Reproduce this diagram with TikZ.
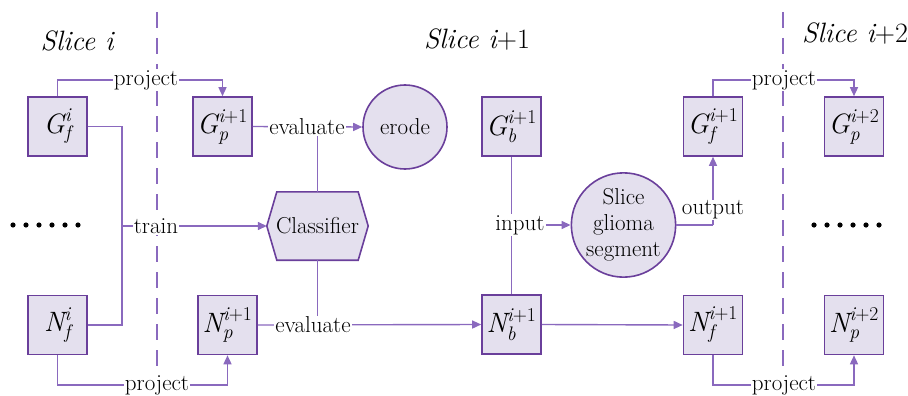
\documentclass[tikz,border=0pt]{standalone}
\usepackage{amsmath}
\usetikzlibrary{arrows.meta}

\definecolor{boxfill}{HTML}{E4E0EE}
\definecolor{boxline}{HTML}{6A3F9B}
\definecolor{wire}{HTML}{8A69BE}

% italic symbol with italic/upright super- and subscripts
\newcommand{\sym}[3]{$\text{\itshape #1}^{#2}_{\text{\itshape #3}}$}
\newcommand{\ii}{\text{\itshape i}}
\newcommand{\ip}[1]{\text{\itshape i}\text{+#1}}

\tikzset{
  setbox/.style={draw=boxline, line width=1.6pt, fill=boxfill,
    minimum size=59pt, inner sep=0pt,
    font=\fontsize{28}{30}\selectfont},
  opnode/.style={circle, draw=boxline, line width=1.6pt, fill=boxfill,
    inner sep=0pt, font=\fontsize{23}{26}\selectfont, align=center},
  lbl/.style={fill=white, inner sep=1pt, font=\fontsize{23}{24}\selectfont},
  title/.style={font=\fontsize{28}{32}\selectfont\itshape},
  wireline/.style={draw=wire, line width=1.4pt},
  arrowline/.style={wireline, -{Triangle[length=9pt,width=8pt]}},
  sep/.style={draw=wire, line width=2pt, dash pattern=on 16pt off 10pt}
}

\begin{document}
\begin{tikzpicture}[x=1pt, y=-1pt]
\useasboundingbox (0,0) rectangle (908,396);

% slice separators
\draw[sep] (157,12) -- (157,380);
\draw[sep] (783,12) -- (783,380);

% titles
\node[title] (ti0) at (77,41) {Slice i};
\node[title] (ti1) at (477,40) {Slice i\upshape+1};
\node[title] (ti2) at (855,34) {Slice i\upshape+2};

% sets
\node[setbox] (Gfi)  at (57.5,126.5) {\sym{G}{\ii}{f}};
\node[setbox] (Nfi)  at (57.5,325)   {\sym{N}{\ii}{f}};
\node[setbox] (Gp1)  at (222.5,126.5) {\sym{G}{\ip1}{p}};
\node[setbox] (Np1)  at (227.5,325)  {\sym{N}{\ip1}{p}};
\node[setbox] (Gb1)  at (511.5,126.5) {\sym{G}{\ip1}{b}};
\node[setbox] (Nb1)  at (511.5,324.5) {\sym{N}{\ip1}{b}};
\node[setbox] (Gf1)  at (713,126.5)  {\sym{G}{\ip1}{f}};
\node[setbox] (Nf1)  at (713,325)    {\sym{N}{\ip1}{f}};
\node[setbox] (Gp2)  at (854,126.5)  {\sym{G}{\ip2}{p}};
\node[setbox] (Np2)  at (854,325)    {\sym{N}{\ip2}{p}};

% operations
\node[opnode, minimum size=84pt] (erode) at (405,127) {erode};
\node[opnode, minimum size=104pt] (seg) at (623.5,225) {Slice\\glioma\\segment};

% classifier (hexagon drawn around a plain node)
\node[minimum width=101pt, minimum height=68pt, inner sep=0pt] (cls) at (317.5,226) {};
\filldraw[draw=boxline, fill=boxfill, line width=1.6pt, line join=miter]
  (cls.west) -- ([xshift=10pt]cls.north west) -- ([xshift=-10pt]cls.north east)
  -- (cls.east) -- ([xshift=-10pt]cls.south east) -- ([xshift=10pt]cls.south west) -- cycle;
\node[font=\fontsize{23}{26}\selectfont] (clsT) at (cls.center) {Classifier};

% ellipses
\foreach \x in {13,26,39,52,65,78} \fill (\x,225) circle (2.6pt);
\foreach \x in {814,827,840,853,866,879} \fill (\x,225) circle (2.6pt);

% training branch
\coordinate (tr0) at (122,126.5);
\coordinate (tr1) at (122,325);
\coordinate (tr2) at (122,226);
\draw[wireline] (Gfi.east) -- (tr0) -- (tr1) -- (Nfi.east);
\draw[arrowline] (tr2) -- (cls.west);
\node[lbl] (trL) at (156,226) {train};

% projections slice i -> i+1
\draw[arrowline] (Gfi.north) -- (57.5,80) -- (222.5,80) -- (Gp1.north);
\node[lbl] (pj1) at (146,80) {project};
\draw[arrowline] (Nfi.south) -- (57.5,385) -- (227.5,385) -- (Np1.south);
\node[lbl] (pj2) at (157,385) {project};

% evaluation
\draw[arrowline] (Gp1.east) -- (erode.west);
\node[lbl] (ev1) at (307,126.5) {evaluate};
\draw[wireline] (cls.north) -- (cls.north |- ev1.south);
\draw[arrowline] (Np1.east) -- (Nb1.west);
\node[lbl] (ev2) at (313,325) {evaluate};
\draw[wireline] (cls.south) -- (cls.south |- ev2.north);

% segmentation
\draw[wireline] (Gb1.south) -- (Nb1.north);
\node[lbl] (inL) at (520,225) {input};
\draw[arrowline] (inL.east) -- (seg.west);
\coordinate (outC) at (713,225);
\draw[wireline] (seg.east) -- (outC);
\draw[arrowline] (outC) -- (Gf1.south);
\node[lbl] (outL) at (713,210) {output};
\draw[arrowline] (Nb1.east) -- (Nf1.west);

% projections slice i+1 -> i+2
\draw[arrowline] (Gf1.north) -- (713,80) -- (854,80) -- (Gp2.north);
\node[lbl] (pj3) at (784,80) {project};
\draw[arrowline] (Nf1.south) -- (713,385) -- (854,385) -- (Np2.south);
\node[lbl] (pj4) at (784,385) {project};
\end{tikzpicture}
\end{document}
